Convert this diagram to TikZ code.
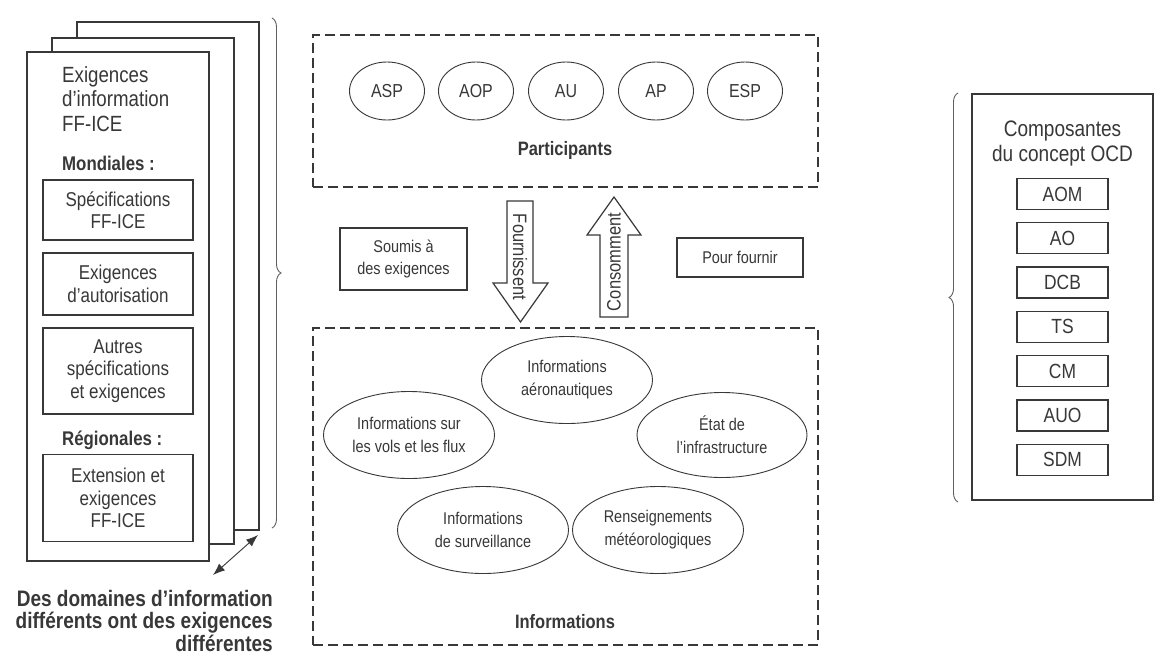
\documentclass[tikz,border=0pt]{standalone}
\usepackage{fontspec}
\setmainfont{Liberation Sans}[FakeStretch=0.85]
\usetikzlibrary{arrows.meta,positioning,calc,shapes.geometric,decorations.pathreplacing}
\colorlet{ink}{black!78}
\tikzset{
  page/.style={draw=ink,line width=2.2pt,fill=white,anchor=north west,inner sep=0pt},
  reqbox/.style={draw=ink,line width=1.3pt,minimum width=150pt,inner sep=2pt,align=center,font=\fontsize{20}{22.5}\selectfont},
  grp/.style={anchor=base west,inner sep=0pt,font=\fontsize{19.8}{20}\selectfont\bfseries},
  dashbox/.style={draw=ink,line width=2pt,dash pattern=on 10pt off 5pt},
  actor/.style={draw=ink,ellipse,line width=0.9pt,minimum width=75pt,minimum height=58pt,inner sep=0pt,font=\fontsize{18.8}{20}\selectfont},
  infoell/.style={draw=ink,ellipse,line width=0.9pt,minimum width=171pt,minimum height=87pt,inner sep=0pt,align=center,font=\fontsize{17}{23}\selectfont},
  plainbox/.style={draw=ink,line width=1.3pt,inner sep=0pt,align=center,font=\fontsize{17}{22}\selectfont},
  ocdbox/.style={draw=ink,line width=1.3pt,minimum width=91pt,minimum height=31pt,inner sep=0pt,font=\fontsize{20.5}{22}\selectfont},
  lbl/.style={font=\fontsize{19.4}{20}\selectfont\bfseries},
  blockarr/.style={draw=ink,line width=1.2pt,fill=white,line join=miter},
  brc/.style={draw=ink!80,line width=0.9pt,decorate,decoration={brace,amplitude=9pt}},
}
\begin{document}
\begin{tikzpicture}[x=1pt,y=-1pt,every node/.style={text=ink}]
 \useasboundingbox[fill=white] (0,0) rectangle (1173,654);
 % ---- stacked pages of requirements
 \node[page,minimum width=182pt,minimum height=508pt] (pgback) at (76,21) {};
 \node[page,minimum width=182pt,minimum height=506pt] (pgmid) at (51,37) {};
 \node[page,minimum width=182pt,minimum height=509pt] (pgfront) at (26,51) {};
 \node[anchor=north west,align=left,inner sep=0pt,font=\fontsize{22}{24.5}\selectfont] (exhead) at (62,66) {Exigences\\d'information\\FF-ICE};
 \node[grp] (mond) at (62,170) {Mondiales :};
 \node[reqbox,minimum height=60pt] (spec) at (118,210) {Spécifications\\FF-ICE};
 \node[reqbox,minimum height=62pt] (autor) at (118,284) {Exigences\\d'autorisation};
 \node[reqbox,minimum height=86pt] (autres) at (118,371) {Autres\\spécifications\\et exigences};
 \node[grp] (regio) at (62,445) {Régionales :};
 \node[reqbox,minimum height=87pt] (ext) at (118,498) {Extension et\\exigences\\FF-ICE};
 \draw[brc] (272,18) -- (272,528);
 % ---- domains note
 \coordinate (dA) at (213,575); \coordinate (dB) at (258,535);
 \draw[ink,line width=0.9pt,{Latex[length=12pt,width=9pt]}-{Latex[length=12pt,width=9pt]}] (dA) -- (dB);
 \node[anchor=north east,align=right,inner sep=0pt,font=\fontsize{22.4}{22.5}\selectfont\bfseries] (note) at (273,590) {Des domaines d'information\\différents ont des exigences\\différentes};
 % ---- participants
 \node[dashbox,minimum width=505pt,minimum height=152pt] (partbox) at (565.5,111) {};
 \foreach \n/\x in {ASP/387,AOP/476,AU/566,AP/656,ESP/745}{\node[actor] (p-\n) at (\x,91) {\n};}
 \node[lbl] (partlbl) at (565,150) {Participants};
 % ---- middle row
 \node[plainbox,minimum width=127pt,minimum height=62pt] (soumis) at (403.5,259) {Soumis à\\des exigences};
 \node[plainbox,minimum width=126pt,minimum height=39pt] (pourf) at (740,257.5) {Pour fournir};
 \draw[blockarr] (507,201)--(533,201)--(533,283)--(548,283)--(520.5,322)--(493,283)--(507,283)--cycle;
 \node[rotate=-90,font=\fontsize{19.4}{20}\selectfont] (fourn) at (520,257) {Fournissent};
 \draw[blockarr] (600,317)--(628,317)--(628,235)--(641,235)--(614,197)--(587,235)--(600,235)--cycle;
 \node[rotate=90,font=\fontsize{19.4}{20}\selectfont] (consom) at (614,262) {Consomment};
 % ---- informations
 \node[dashbox,minimum width=505pt,minimum height=317pt] (infobox) at (565.5,486.5) {};
 \node[infoell] (aero) at (567,380) {Informations\\aéronautiques};
 \node[infoell] (vols) at (409,435) {Informations sur\\les vols et les flux};
 \node[infoell,minimum width=170pt,minimum height=85pt] (infra) at (722,435) {État de\\l'infrastructure};
 \node[infoell] (surv) at (483,530) {Informations\\de surveillance};
 \node[infoell] (meteo) at (658,530) {Renseignements\\météorologiques};
 \node[lbl] (infolbl) at (565,622) {Informations};
 % ---- OCD components
 \draw[brc] (958,502) -- (958,93);
 \node[draw=ink,line width=2.2pt,minimum width=181pt,minimum height=406pt,inner sep=0pt] (ocd) at (1062.5,297) {};
 \node[align=center,font=\fontsize{22.4}{25}\selectfont] (ocdhead) at (1062.5,143) {Composantes\\du concept OCD};
 \foreach \c [count=\i from 0] in {AOM,AO,DCB,TS,CM,AUO,SDM}{\node[ocdbox] (c-\c) at (1062.5,194+44.3*\i) {\c};}
\end{tikzpicture}
\end{document}
